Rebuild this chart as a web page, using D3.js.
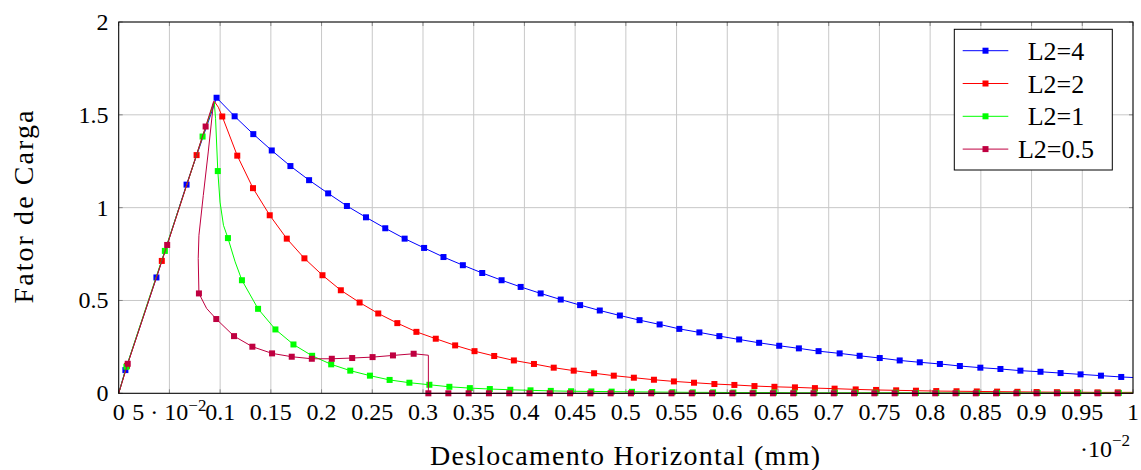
<!DOCTYPE html>
<html>
<head>
<meta charset="utf-8">
<script src="https://cdn.jsdelivr.net/npm/d3@7"></script>
<style>
    body { margin: 0; background: #fff }
</style>
</head>
<body>
<script>
const xTicks = [0, 0.05, 0.1, 0.15, 0.2, 0.25, 0.3, 0.35, 0.4, 0.45, 0.5, 0.55, 0.6, 0.65, 0.7, 0.75, 0.8, 0.85, 0.9, 0.95, 1]
const xTickLabels = ['0', '5 · 10^−2', '0.1', '0.15', '0.2', '0.25', '0.3', '0.35', '0.4', '0.45', '0.5',
    '0.55', '0.6', '0.65', '0.7', '0.75', '0.8', '0.85', '0.9', '0.95', '1']
const yTicks = [0, 0.5, 1, 1.5, 2]
const yTickLabels = ['0', '0.5', '1', '1.5', '2']

// L2=4
const dispL4 = [0, 0.0066, 0.0372, 0.0669, 0.0965, 0.1143, 0.1327, 0.1509, 0.1693, 0.1877, 0.2065, 0.225,
    0.2438, 0.2628, 0.2819, 0.3011, 0.3202, 0.3393, 0.3584, 0.3775, 0.3963, 0.416, 0.4358, 0.4549, 0.4743,
    0.4941, 0.5135, 0.5333, 0.5527, 0.5725, 0.5922, 0.6117, 0.6314, 0.6512, 0.6706, 0.69, 0.7108, 0.7305,
    0.7503, 0.77, 0.7898, 0.8096, 0.8293, 0.8495, 0.8693, 0.889, 0.9088, 0.9286, 0.9483, 0.9684, 0.9884, 1]
const loadL4 = [0, 0.125, 0.624, 1.124, 1.592, 1.492, 1.396, 1.308, 1.224, 1.148, 1.077, 1.009,
    0.948, 0.889, 0.833, 0.783, 0.734, 0.69, 0.648, 0.609, 0.573, 0.538, 0.505, 0.475, 0.446,
    0.419, 0.394, 0.371, 0.347, 0.328, 0.308, 0.29, 0.272, 0.256, 0.242, 0.227, 0.215, 0.202,
    0.19, 0.177, 0.167, 0.158, 0.147, 0.138, 0.131, 0.122, 0.116, 0.109, 0.102, 0.095, 0.088, 0.085]
const plainL4 = [0, 51]

// L2=2
const dispL2 = [0, 0.0082, 0.0425, 0.0768, 0.0942, 0.0982, 0.1021, 0.1169, 0.1324, 0.1489, 0.1657, 0.1831,
    0.2009, 0.219, 0.2375, 0.2559, 0.2747, 0.2935, 0.3126, 0.3317, 0.3508, 0.3702, 0.3896, 0.4094, 0.4289,
    0.4486, 0.4687, 0.4881, 0.5079, 0.5277, 0.5474, 0.5672, 0.5873, 0.607, 0.6268, 0.6465, 0.6667, 0.6864,
    0.7058, 0.7266, 0.7467, 0.7665, 0.786, 0.806, 0.826, 0.846, 0.866, 0.886, 0.905, 0.925, 0.945, 0.965, 0.985, 1]
const loadL2 = [0, 0.148, 0.713, 1.283, 1.573, 1.541, 1.491, 1.28, 1.105, 0.959, 0.833, 0.727,
    0.636, 0.555, 0.489, 0.43, 0.378, 0.331, 0.294, 0.258, 0.227, 0.201, 0.177, 0.158, 0.138,
    0.122, 0.108, 0.095, 0.084, 0.073, 0.064, 0.057, 0.05, 0.045, 0.039, 0.035, 0.032, 0.028,
    0.025, 0.021, 0.018, 0.016, 0.014, 0.012, 0.011, 0.01, 0.009, 0.008, 0.007, 0.006, 0.006, 0.005, 0.005, 0.005]
const plainL2 = [0, 4, 5, 53]

// L2=1
const dispL1 = [0, 0.0076, 0.0455, 0.0827, 0.0942, 0.0955, 0.0977, 0.0999, 0.1033, 0.1077, 0.1148, 0.1215,
    0.1374, 0.1545, 0.1723, 0.1907, 0.2095, 0.2283, 0.2477, 0.2671, 0.2866, 0.3063, 0.326, 0.3462, 0.3659, 0.3861,
    0.406, 0.426, 0.446, 0.466, 0.486, 0.506, 0.526, 0.546, 0.566, 0.586, 0.606, 0.626, 0.646, 0.666, 0.686,
    0.706, 0.726, 0.746, 0.766, 0.786, 0.806, 0.826, 0.846, 0.866, 0.886, 0.906, 0.926, 0.946, 0.966, 0.986, 1]
const loadL1 = [0, 0.143, 0.767, 1.383, 1.568, 1.479, 1.197, 1.03, 0.905, 0.836, 0.708, 0.609,
    0.455, 0.344, 0.263, 0.202, 0.156, 0.122, 0.095, 0.072, 0.057, 0.046, 0.035, 0.028, 0.023, 0.019,
    0.016, 0.013, 0.011, 0.01, 0.009, 0.008, 0.007, 0.006, 0.005, 0.005, 0.004, 0.004, 0.004, 0.003, 0.003,
    0.003, 0.003, 0.003, 0.003, 0.002, 0.002, 0.002, 0.002, 0.002, 0.002, 0.002, 0.002, 0.002, 0.002, 0.002, 0.002]
const plainL1 = [0, 4, 5, 7, 8, 10, 56]

// L2=0.5
const dispL05 = [0, 0.0089, 0.0478, 0.0857, 0.0936, 0.0883, 0.0834, 0.0791, 0.0784, 0.0791, 0.0867, 0.0962,
    0.1137, 0.1318, 0.1512, 0.1706, 0.1904, 0.2101, 0.2302, 0.2503, 0.2704, 0.2908, 0.3053, 0.3053,
    0.325, 0.345, 0.365, 0.385, 0.405, 0.425, 0.445, 0.465, 0.485, 0.505, 0.525, 0.545, 0.565, 0.585,
    0.605, 0.625, 0.645, 0.665, 0.685, 0.705, 0.725, 0.745, 0.765, 0.785, 0.805, 0.825, 0.845, 0.865,
    0.885, 0.905, 0.925, 0.945, 0.965, 0.985, 1]
const loadL05 = [0, 0.159, 0.799, 1.437, 1.572, 1.3, 1.066, 0.851, 0.726, 0.538, 0.457, 0.4,
    0.308, 0.251, 0.215, 0.197, 0.186, 0.186, 0.19, 0.195, 0.204, 0.213, 0.205, 0,
    0, 0, 0, 0, 0, 0, 0, 0, 0, 0, 0, 0, 0, 0,
    0, 0, 0, 0, 0, 0, 0, 0, 0, 0, 0, 0, 0, 0,
    0, 0, 0, 0, 0, 0, 0, 0, 0]
const plainL05 = [0, 4, 5, 6, 7, 8, 10, 22, 58]

const series = [
    { name: 'L2=4', color: '#0000ff', xs: dispL4, ys: loadL4, plain: plainL4 },
    { name: 'L2=2', color: '#ff0000', xs: dispL2, ys: loadL2, plain: plainL2 },
    { name: 'L2=1', color: '#00ff00', xs: dispL1, ys: loadL1, plain: plainL1 },
    { name: 'L2=0.5', color: '#bf0040', xs: dispL05, ys: loadL05, plain: plainL05 },
]

const width = 1141
const height = 470
const plot = { left: 118.7, right: 1133, top: 22, bottom: 393.3 }
const markSize = 6
const FONT = 'Liberation Serif'

const x = d3.scaleLinear().domain([0, 1]).range([plot.left, plot.right])
const y = d3.scaleLinear().domain([0, 2]).range([plot.bottom, plot.top])

const svg = d3.select('body').append('svg')
    .attr('width', width)
    .attr('height', height)
    .attr('viewBox', [0, 0, width, height])
    .style('display', 'block')

// text with an optional "^exponent" part
function writeLabel(sel, label, supSize, supDy) {
    const [base, sup] = label.split('^')
    sel.append('tspan').text(base)
    if (sup) {
        sel.append('tspan')
            .attr('font-size', supSize)
            .attr('dy', supDy)
            .text(sup)
    }
}

// grid
const grid = svg.append('g')
    .attr('stroke', '#c8c8c8')
    .attr('stroke-width', 1)
grid.selectAll('.gx')
    .data(xTicks)
    .join('line')
        .attr('x1', d => x(d))
        .attr('x2', d => x(d))
        .attr('y1', plot.top)
        .attr('y2', plot.bottom)
grid.selectAll('.gy')
    .data(yTicks)
    .join('line')
        .attr('class', 'gy')
        .attr('x1', plot.left)
        .attr('x2', plot.right)
        .attr('y1', d => y(d))
        .attr('y2', d => y(d))

// inward ticks on all four sides
const ticks = svg.append('g')
    .attr('stroke', '#888')
    .attr('stroke-width', 1)
for (const [y0, dir] of [[plot.bottom, -1], [plot.top, 1]]) {
    ticks.append('g').selectAll('line')
        .data(xTicks)
        .join('line')
            .attr('x1', d => x(d))
            .attr('x2', d => x(d))
            .attr('y1', y0)
            .attr('y2', y0 + dir * 4)
}
for (const [x0, dir] of [[plot.left, 1], [plot.right, -1]]) {
    ticks.append('g').selectAll('line')
        .data(yTicks)
        .join('line')
            .attr('x1', x0)
            .attr('x2', x0 + dir * 4)
            .attr('y1', d => y(d))
            .attr('y2', d => y(d))
}

// series: line first, then the square marks
const line = d3.line()
    .x(d => x(d[0]))
    .y(d => y(d[1]))

for (const s of series) {
    const pts = s.xs.map((v, i) => [v, s.ys[i], i])
    const g = svg.append('g')
    g.append('path')
        .datum(pts)
        .attr('d', line)
        .attr('fill', 'none')
        .attr('stroke', s.color)
        .attr('stroke-width', 1)
    g.selectAll('rect')
        .data(pts.filter(p => !s.plain.includes(p[2])))
        .join('rect')
            .attr('x', d => x(d[0]) - markSize / 2)
            .attr('y', d => y(d[1]) - markSize / 2)
            .attr('width', markSize)
            .attr('height', markSize)
            .attr('fill', s.color)
}

// frame
svg.append('rect')
    .attr('x', plot.left)
    .attr('y', plot.top)
    .attr('width', plot.right - plot.left)
    .attr('height', plot.bottom - plot.top)
    .attr('fill', 'none')
    .attr('stroke', '#000')
    .attr('stroke-width', 1)

// tick labels
svg.append('g')
        .attr('font-family', FONT)
        .attr('font-size', 24)
        .attr('text-anchor', 'middle')
    .selectAll('text')
    .data(xTicks)
    .join('text')
        .attr('font-family', FONT)
        .attr('x', d => x(d))
        .attr('y', 420)
        .each(function (d, i) { writeLabel(d3.select(this), xTickLabels[i], 17, -9) })

svg.append('g')
        .attr('font-size', 24)
        .attr('text-anchor', 'end')
    .selectAll('text')
    .data(yTicks)
    .join('text')
        .attr('font-family', FONT)
        .attr('x', 108.5)
        .attr('y', d => y(d) + 8)
        .text((d, i) => yTickLabels[i])

svg.append('text')
    .attr('font-family', FONT)
    .attr('font-size', 24)
    .attr('text-anchor', 'end')
    .attr('x', 1130)
    .attr('y', 457)
    .call(sel => writeLabel(sel, '·10^−2', 17, -11))

// axis titles
svg.append('text')
    .attr('font-family', FONT)
    .attr('font-size', 28)
    .attr('text-anchor', 'middle')
    .attr('x', 625)
    .attr('y', 465)
    .attr('textLength', 390)
    .text('Deslocamento Horizontal (mm)')

svg.append('text')
    .attr('font-family', FONT)
    .attr('font-size', 28)
    .attr('text-anchor', 'middle')
    .attr('transform', 'translate(33,207) rotate(-90)')
    .attr('textLength', 193)
    .text('Fator de Carga')

// legend
const legend = svg.append('g')
legend.append('rect')
    .attr('x', 954.3)
    .attr('y', 29.3)
    .attr('width', 158)
    .attr('height', 140.7)
    .attr('fill', '#fff')
    .attr('stroke', '#000')
    .attr('stroke-width', 1)

const entry = legend.selectAll('.entry')
    .data(series)
    .join('g')
        .attr('transform', (d, i) => `translate(0,${50.7 + i * 32.8})`)
entry.append('line')
    .attr('x1', 962.7)
    .attr('x2', 1008.3)
    .attr('stroke', d => d.color)
    .attr('stroke-width', 1)
entry.append('rect')
    .attr('x', 985.5 - markSize / 2)
    .attr('y', -markSize / 2)
    .attr('width', markSize)
    .attr('height', markSize)
    .attr('fill', d => d.color)
entry.append('text')
    .attr('font-family', FONT)
    .attr('x', 1056)
    .attr('y', 9)
    .attr('font-size', 26)
    .attr('text-anchor', 'middle')
    .text(d => d.name)
</script>
</body>
</html>
